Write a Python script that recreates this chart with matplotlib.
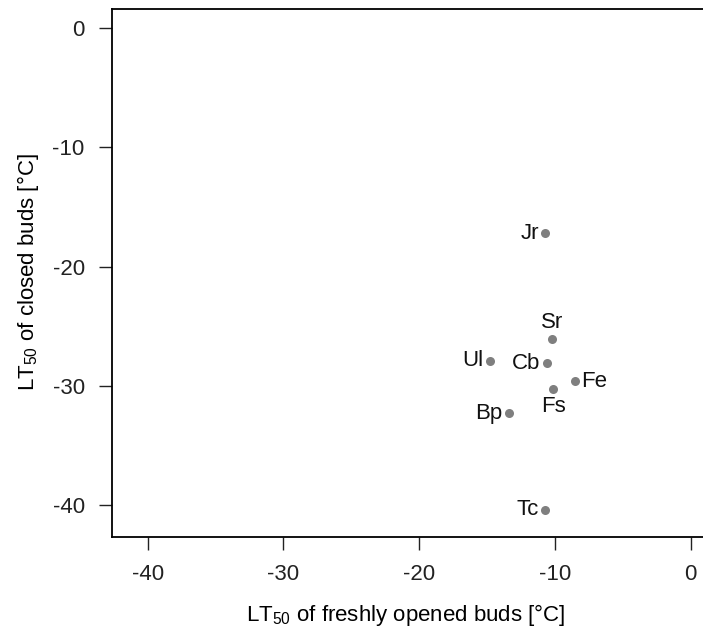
import numpy as np
import matplotlib
matplotlib.use("Agg")
import matplotlib.pyplot as plt

plt.rcParams['font.family'] = ['Liberation Sans', 'DejaVu Sans']
plt.rcParams['mathtext.fontset'] = 'custom'
plt.rcParams['mathtext.rm'] = 'Liberation Sans'
plt.rcParams['mathtext.it'] = 'Liberation Sans'
plt.rcParams['axes.unicode_minus'] = False

# LT50 values
species = ['Jr', 'Sr', 'Ul', 'Cb', 'Fe', 'Fs', 'Bp', 'Tc']
lt50_open = [-10.7, -10.2, -14.8, -10.6, -8.5, -10.1, -13.4, -10.7]
lt50_closed = [-17.2, -26.1, -27.9, -28.1, -29.6, -30.3, -32.3, -40.4]
label_side = ['left', 'top', 'left', 'left', 'right', 'bottom', 'left', 'left']

ticks = [-40, -30, -20, -10, 0]

fig = plt.figure(figsize=(7.03, 6.39), dpi=100)
ax = fig.add_axes([0.159, 0.1604, 0.855, 0.826])

ax.plot(lt50_open, lt50_closed, 'o', color='#7f7f7f', markersize=6.5, markeredgewidth=0)

offs = {'left': ((-4.5, 0), 'right', 'center'),
        'right': ((4.5, 0), 'left', 'center'),
        'top': ((0, 4.5), 'center', 'bottom'),
        'bottom': ((0, -4.5), 'center', 'top')}
for name, x, y, side in zip(species, lt50_open, lt50_closed, label_side):
    off, ha, va = offs[side]
    ax.annotate(name, (x, y), xytext=off, textcoords='offset points',
                ha=ha, va=va, fontsize=16, color='#111111')

ax.set_xlim(-42.64, 1.64)
ax.set_ylim(-42.64, 1.64)
ax.set_xticks(ticks)
ax.set_yticks(ticks)
ax.tick_params(direction='out', length=9.5, width=1, labelsize=16, pad=10, colors='#222222')
for s in ax.spines.values():
    s.set_linewidth(1.3)
ax.spines['right'].set_visible(False)

ax.set_xlabel('LT$_{50}$ of freshly opened buds [°C]', fontsize=16)
ax.set_ylabel('LT$_{50}$ of closed buds [°C]', fontsize=16)
ax.xaxis.set_label_coords(0.489, -0.149)
ax.yaxis.set_label_coords(-0.139, 0.5)
ax.xaxis.label.set_va('center')
ax.yaxis.label.set_va('center')

fig.savefig('out.png', dpi=100)
